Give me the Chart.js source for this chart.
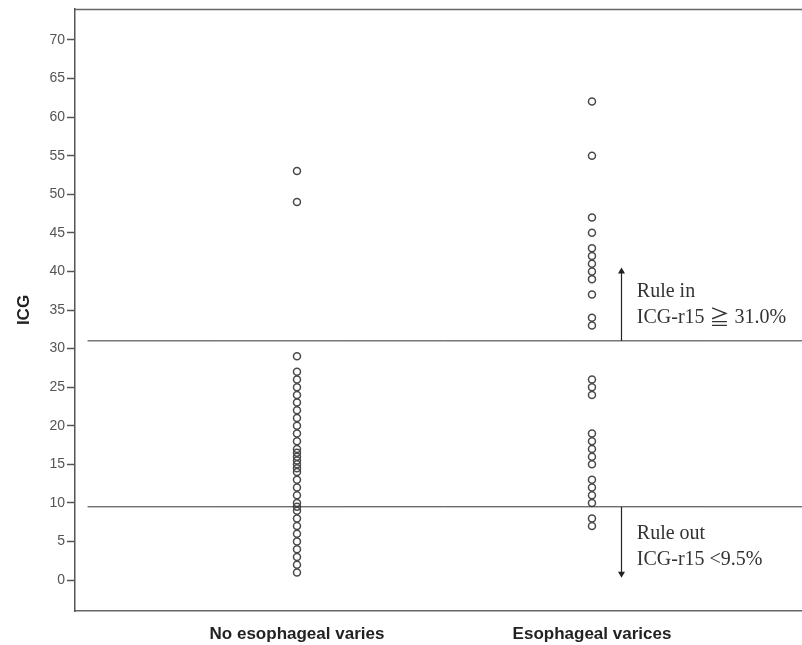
<!DOCTYPE html>
<html>
<head>
<meta charset="utf-8">
<script src="https://cdn.jsdelivr.net/npm/chart.js@4.4.1/dist/chart.umd.min.js"></script>
<style>
  html, body { margin: 0; padding: 0; background: #fff; }
  #wrap { width: 802px; height: 645px; }
</style>
</head>
<body>
<div id="wrap"><canvas id="icgChart" width="802" height="645"></canvas></div>
<script>
'use strict';
// values
var categories = ['No esophageal varies', 'Esophageal varices'];
var noVaricesIcg = [53, 49, 29, 27, 26, 25, 24, 23, 22, 21, 20, 19, 18, 17, 16.5, 16, 15.5, 15, 14.5, 14, 13, 12, 11, 10, 9.5, 9, 8, 7, 6, 5, 4, 3, 2, 1];
var varicesIcg = [62, 55, 47, 45, 43, 42, 41, 40, 39, 37, 34, 33, 26, 25, 24, 19, 18, 17, 16, 15, 13, 12, 11, 10, 8, 7];
var yTicks = [0, 5, 10, 15, 20, 25, 30, 35, 40, 45, 50, 55, 60, 65, 70];
var cutoffs = [31, 9.5];

var X_MIN = 0.2475, X_MAX = 2.712;
var LINE_START = 0.29;

function toPoints(vals, x) {
    return vals.map(function(v) { return { x: x, y: v }; });
}

function pointSet(vals, x) {
    return {
        type: 'scatter',
        data: toPoints(vals, x),
        pointStyle: 'circle',
        pointRadius: 3.5,
        pointBorderWidth: 1.5,
        pointBorderColor: '#4a4a4a',
        pointBackgroundColor: 'rgba(0,0,0,0)',
        showLine: false
    };
}

function cutoffSet(v) {
    return {
        type: 'line',
        data: [{ x: LINE_START, y: v }, { x: X_MAX, y: v }],
        borderColor: '#333',
        borderWidth: 1,
        pointRadius: 0,
        fill: false
    };
}

// arrows + "rule in / rule out" notes, placed in data units
var notes = {
    arrowX: 2.10,
    ruleIn:  { from: cutoffs[0], to: 40.5 },
    ruleOut: { from: cutoffs[1], to: 0.3 },
    textX: 2.152,
    lines: [
        { y: 37.4, parts: ['Rule in'] },
        { y: 34.0, parts: ['ICG-r15 ', '\u2267', ' 31.0%'] },
        { y: 5.95, parts: ['Rule out'] },
        { y: 2.7,  parts: ['ICG-r15 <9.5%'] }
    ]
};

var SERIF = '20px "Liberation Serif", "DejaVu Serif", serif';
var CJK = '20px "Noto Sans CJK JP", "Noto Sans CJK SC", sans-serif';

function noPad(s) {
    s.paddingTop = 0; s.paddingBottom = 0;
    s.paddingLeft = 0; s.paddingRight = 0;
}

var framePlugin = {
    id: 'frame',
    afterDraw: function(chart) {
        var ctx = chart.ctx, a = chart.chartArea;
        var xs = chart.scales.x, ys = chart.scales.y;
        ctx.save();
        // top border
        ctx.strokeStyle = '#666';
        ctx.lineWidth = 1.5;
        ctx.beginPath();
        ctx.moveTo(a.left, a.top + 0.5);
        ctx.lineTo(a.right, a.top + 0.5);
        ctx.stroke();

        // arrows
        ctx.strokeStyle = '#222';
        ctx.fillStyle = '#222';
        ctx.lineWidth = 1.2;
        var ax = Math.round(xs.getPixelForValue(notes.arrowX)) + 0.5;
        [notes.ruleIn, notes.ruleOut].forEach(function(r) {
            var y0 = ys.getPixelForValue(r.from), y1 = ys.getPixelForValue(r.to);
            var dir = y1 < y0 ? -1 : 1;
            ctx.beginPath();
            ctx.moveTo(ax, y0);
            ctx.lineTo(ax, y1 - dir * 5);
            ctx.stroke();
            ctx.beginPath();
            ctx.moveTo(ax, y1);
            ctx.lineTo(ax - 3.5, y1 - dir * 6);
            ctx.lineTo(ax + 3.5, y1 - dir * 6);
            ctx.closePath();
            ctx.fill();
        });

        // notes
        ctx.fillStyle = '#333';
        ctx.textAlign = 'left';
        ctx.textBaseline = 'middle';
        var tx0 = xs.getPixelForValue(notes.textX);
        notes.lines.forEach(function(l) {
            var tx = tx0, ty = ys.getPixelForValue(l.y);
            l.parts.forEach(function(p) {
                ctx.font = p === '\u2267' ? CJK : SERIF;
                ctx.fillText(p, tx, ty);
                tx += ctx.measureText(p).width;
            });
        });
        ctx.restore();
    }
};

new Chart(document.getElementById('icgChart').getContext('2d'), {
    type: 'scatter',
    data: {
        datasets: [
            cutoffSet(cutoffs[0]),
            cutoffSet(cutoffs[1]),
            pointSet(noVaricesIcg, 1),
            pointSet(varicesIcg, 2)
        ]
    },
    options: {
        responsive: false,
        animation: false,
        layout: { autoPadding: false, padding: { top: 9, right: 0, left: 0, bottom: 0 } },
        plugins: {
            legend: { display: false },
            tooltip: { enabled: false }
        },
        scales: {
            x: {
                type: 'linear',
                min: X_MIN,
                max: X_MAX,
                afterBuildTicks: function(s) { s.ticks = [{ value: 1 }, { value: 2 }]; },
                afterFit: function(s) { s.height = 34; noPad(s); },
                ticks: {
                    autoSkip: false,
                    maxRotation: 0,
                    padding: 13,
                    color: '#222',
                    font: { family: '"Liberation Sans", Arial, sans-serif', size: 17, weight: 'bold' },
                    callback: function(v) { return categories[v - 1] || ''; }
                },
                grid: { drawOnChartArea: false, drawTicks: false },
                border: { color: '#666', width: 1.5 }
            },
            y: {
                min: -4,
                max: 74,
                afterBuildTicks: function(s) { s.ticks = yTicks.map(function(v) { return { value: v }; }); },
                afterFit: function(s) { s.width = 75; noPad(s); },
                ticks: {
                    padding: 2,
                    color: '#555',
                    font: { family: '"Liberation Sans", Arial, sans-serif', size: 14 }
                },
                grid: { drawOnChartArea: false, tickLength: 8, tickColor: '#555', tickWidth: 1.5 },
                border: { color: '#555', width: 1.5 },
                title: {
                    display: true,
                    text: 'ICG',
                    color: '#222',
                    padding: { top: 14, bottom: 0 },
                    font: { family: '"Liberation Sans", Arial, sans-serif', size: 17, weight: 'bold' }
                }
            }
        }
    },
    plugins: [framePlugin]
});
</script>
</body>
</html>
